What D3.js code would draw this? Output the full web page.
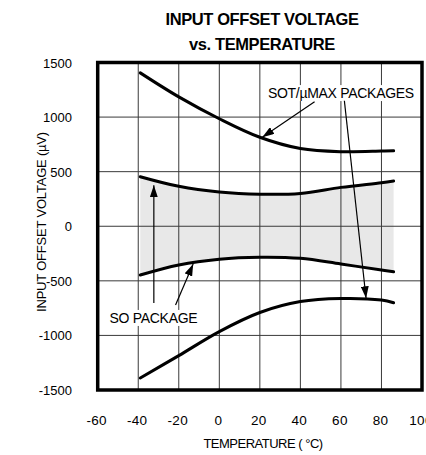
<!DOCTYPE html>
<html><head><meta charset="utf-8">
<script src="https://cdn.jsdelivr.net/npm/d3@7"></script>
<style>
html,body{margin:0;padding:0;background:#fff;}
svg{display:block;font-family:"Liberation Sans",Arial,Helvetica,sans-serif;}
</style></head>
<body>
<svg id="c" width="426" height="455"></svg>
<script>
// ---- data ----
const temps = [-39, -20, 0, 20, 40, 60, 80, 86];
const sotUpper = [1405, 1185, 985, 815, 712, 683, 689, 692];
const soUpper = [454, 366, 314, 294, 301, 356, 399, 414];
const soLower = [-447, -355, -302, -284, -294, -346, -401, -417];
const sotLower = [-1390, -1185, -965, -790, -690, -662, -676, -701];
const xTicks = [-60, -40, -20, 0, 20, 40, 60, 80, 100];
const yTicks = [1500, 1000, 500, 0, -500, -1000, -1500];
const titleLines = ["INPUT OFFSET VOLTAGE", "vs. TEMPERATURE"];
const xTitle = "TEMPERATURE ( °C)";
const yTitle = "INPUT OFFSET VOLTAGE (µV)";
// annotations in data coordinates
const labels = [
  {text: "SOT/µMAX PACKAGES", t: 60, v: 1220},
  {text: "SO PACKAGE", t: -32.5, v: -840}
];
const arrows = [
  {t0: 47, v0: 1141, t1: 21.2, v1: 815},
  {t0: 61.7, v0: 1150, t1: 72.4, v1: -660},
  {t0: -32.3, v0: -703, t1: -32.3, v1: 375},
  {t0: -21.6, v0: -721, t1: -12.9, v1: -345}
];

const svg = d3.select("#c");
const x = d3.scaleLinear().domain([-60, 100]).range([97.7, 422]);
const y = d3.scaleLinear().domain([-1500, 1500]).range([390, 62.5]);

// title
svg.selectAll("text.title").data(titleLines).enter().append("text")
  .attr("class","title").attr("x", 262).attr("y", (d,i)=>25+i*25)
  .attr("text-anchor","middle").attr("font-size",16.5).attr("font-weight","bold")
  .attr("letter-spacing","-0.4").text(d=>d);

// band fill
const band = temps.map((t,i)=>({t, hi: soUpper[i], lo: soLower[i]}));
svg.append("path").datum(band)
  .attr("fill","#e8e8e8")
  .attr("d", d3.area().x(d=>x(d.t)).y0(d=>y(d.lo)).y1(d=>y(d.hi)).curve(d3.curveCatmullRom.alpha(0.5)));

// grid
const g = svg.append("g");
g.selectAll("line.v").data(xTicks.slice(1,-1)).enter().append("line")
  .attr("x1",d=>x(d)).attr("x2",d=>x(d)).attr("y1",y(1500)).attr("y2",y(-1500))
  .attr("stroke","#3a3a3a").attr("stroke-width",1);
g.selectAll("line.h").data(yTicks.slice(1,-1)).enter().append("line")
  .attr("y1",d=>y(d)).attr("y2",d=>y(d)).attr("x1",x(-60)).attr("x2",x(100))
  .attr("stroke","#3a3a3a").attr("stroke-width",1);

// curves
const line = d3.line().x(d=>x(d[0])).y(d=>y(d[1])).curve(d3.curveCatmullRom.alpha(0.5));
[sotUpper, soUpper, soLower, sotLower].forEach(s=>{
  svg.append("path").datum(temps.map((t,i)=>[t, s[i]]))
    .attr("fill","none").attr("stroke","#000").attr("stroke-width",3)
    .attr("stroke-linecap","round").attr("d", line);
});

// frame
svg.append("rect").attr("x",x(-60)).attr("y",y(1500))
  .attr("width",x(100)-x(-60)).attr("height",y(-1500)-y(1500))
  .attr("fill","none").attr("stroke","#000").attr("stroke-width",3.5);

// axis tick labels
svg.selectAll("text.yt").data(yTicks).enter().append("text")
  .attr("x",72).attr("y",d=>y(d)+5).attr("text-anchor","end")
  .attr("font-size",13).text(d=>d);
svg.selectAll("text.xt").data(xTicks).enter().append("text")
  .attr("x",d=>x(d)-1).attr("y",425).attr("text-anchor","middle")
  .attr("font-size",13.5).attr("letter-spacing","0.3").text(d=>d);

// axis titles
svg.append("text").attr("x",263).attr("y",448).attr("text-anchor","middle")
  .attr("font-size",13).attr("letter-spacing","-0.5").text(xTitle);
svg.append("text").attr("transform","translate(46,222) rotate(-90)")
  .attr("text-anchor","middle").attr("font-size",13).attr("letter-spacing","-0.2").text(yTitle);

// annotation labels with white boxes
labels.forEach(l=>{
  const t = svg.append("text").attr("x",x(l.t)).attr("y",y(l.v)+5)
    .attr("text-anchor","middle").attr("font-size",14).attr("letter-spacing","-0.3").text(l.text);
  const bb = t.node().getBBox();
  svg.insert("rect", function(){return t.node();})
    .attr("x",bb.x-2).attr("y",bb.y).attr("width",bb.width+4).attr("height",bb.height)
    .attr("fill","#fff");
});

// arrows
svg.append("defs").append("marker").attr("id","ah")
  .attr("viewBox","0 0 12 8").attr("refX",12).attr("refY",4)
  .attr("markerWidth",12).attr("markerHeight",8).attr("markerUnits","userSpaceOnUse")
  .attr("orient","auto")
  .append("path").attr("d","M0,0 L12,4 L0,8 Z").attr("fill","#000");
svg.selectAll("line.ar").data(arrows).enter().append("line")
  .attr("x1",d=>x(d.t0)).attr("y1",d=>y(d.v0)).attr("x2",d=>x(d.t1)).attr("y2",d=>y(d.v1))
  .attr("stroke","#000").attr("stroke-width",1.2).attr("marker-end","url(#ah)");
</script>
</body></html>
